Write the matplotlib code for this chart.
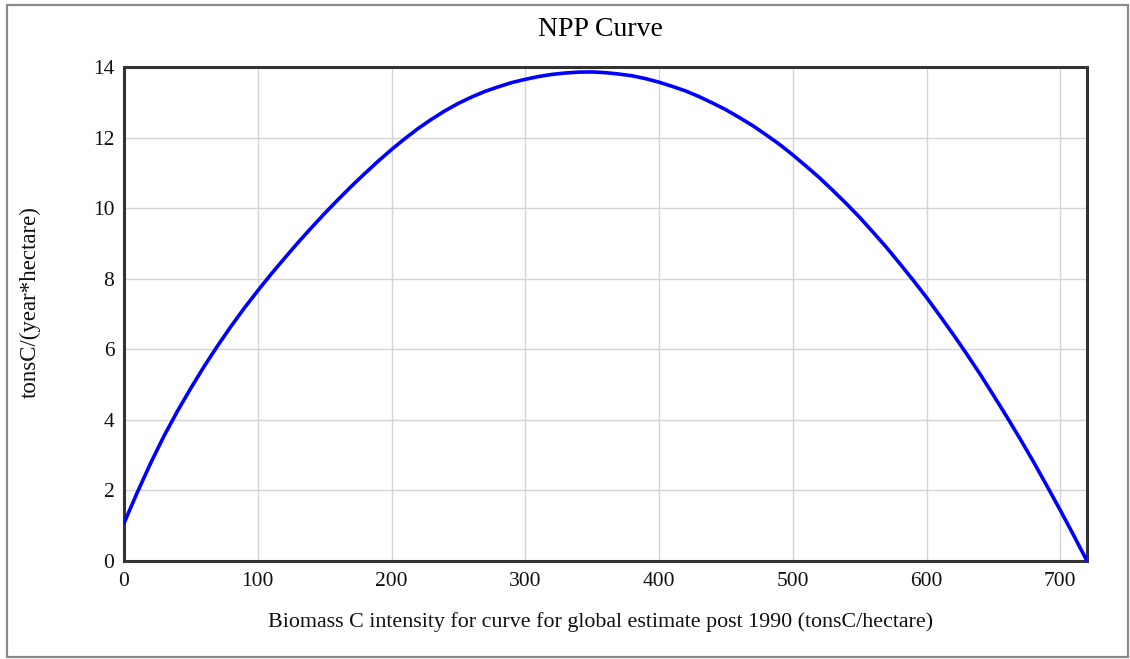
import matplotlib
matplotlib.use("Agg")
import matplotlib.pyplot as plt
from matplotlib.patches import Rectangle

# Data
biomass = [0, 10, 20, 30, 40, 50, 60, 70, 80, 90, 100, 110, 120, 130, 140, 150,
           160, 170, 180, 190, 200, 210, 220, 230, 240, 250, 260, 270, 280, 290,
           300, 310, 320, 330, 340, 350, 360, 370, 380, 390, 400, 410, 420, 430,
           440, 450, 460, 470, 480, 490, 500, 510, 520, 530, 540, 550, 560, 570,
           580, 590, 600, 610, 620, 630, 640, 650, 660, 670, 680, 690, 700, 710, 720]
npp = [1.07, 1.95, 2.78, 3.55, 4.25, 4.90, 5.52, 6.10, 6.65, 7.17, 7.66, 8.13,
       8.58, 9.02, 9.44, 9.85, 10.24, 10.62, 10.98, 11.33, 11.66, 11.97, 12.26,
       12.52, 12.76, 12.97, 13.15, 13.31, 13.44, 13.56, 13.65, 13.73, 13.79,
       13.83, 13.855, 13.86, 13.84, 13.80, 13.75, 13.67, 13.57, 13.45, 13.32,
       13.16, 12.98, 12.79, 12.57, 12.34, 12.08, 11.81, 11.51, 11.19, 10.86,
       10.50, 10.13, 9.74, 9.32, 8.89, 8.43, 7.96, 7.47, 6.95, 6.42, 5.87, 5.30,
       4.70, 4.09, 3.46, 2.81, 2.13, 1.44, 0.73, 0.0]
x_ticks = [0, 100, 200, 300, 400, 500, 600, 700]
y_ticks = [0, 2, 4, 6, 8, 10, 12, 14]

title = "NPP Curve"
x_label = "Biomass C intensity for curve for global estimate post 1990 (tonsC/hectare)"
y_label = "tonsC/(year*hectare)"

plt.rcParams['font.family'] = ['Liberation Serif', 'DejaVu Serif']

W, H = 1130, 659
fig = plt.figure(figsize=(W / 100, H / 100), dpi=100)
fig.patch.set_facecolor('white')

# outer frame
fig.patches.append(Rectangle((7 / W, 1 - 657 / H), (1128 - 7) / W, (657 - 5) / H,
                             transform=fig.transFigure, fill=False,
                             edgecolor='#8a8a8a', linewidth=1.6))

left, right, top, bottom = 124, 1087, 67, 561
ax = fig.add_axes([left / W, 1 - bottom / H, (right - left) / W, (bottom - top) / H])

ax.plot(biomass, npp, color='#0000ff', linewidth=2.6, solid_capstyle='round', zorder=3)

ax.set_xlim(0, 720)
ax.set_ylim(0, 14)
ax.set_xticks(x_ticks)
ax.set_yticks(y_ticks)
ax.grid(True, color='#d4d4d4', linewidth=1.0)
ax.set_axisbelow(True)
for s in ax.spines.values():
    s.set_linewidth(2.2)
    s.set_color('#333333')
ax.tick_params(axis='both', length=0, labelsize=15.5, colors='#111111')
ax.tick_params(axis='x', pad=8)
ax.tick_params(axis='y', pad=7)

fig.text(600 / W, 1 - 30 / H, title, ha='center', va='center', fontsize=20, color='#000000')
fig.text(601 / W, 1 - 622 / H, x_label, ha='center', va='center', fontsize=15.8, color='#111111')
fig.text(30 / W, 1 - 302 / H, y_label, ha='center', va='center', rotation=90,
         fontsize=16.5, color='#111111')

fig.savefig("out.png", dpi=100)
